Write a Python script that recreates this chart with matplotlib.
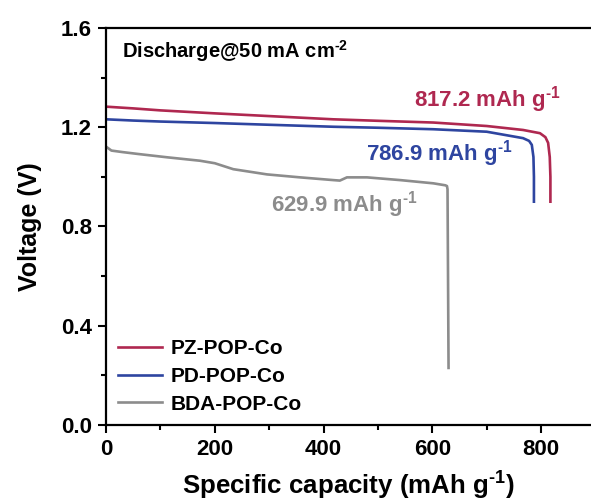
import matplotlib
matplotlib.use("Agg")
import matplotlib.pyplot as plt
from matplotlib.ticker import MultipleLocator

plt.rcParams['font.family'] = ['Liberation Sans', 'DejaVu Sans']
plt.rcParams['font.weight'] = 'bold'
plt.rcParams['mathtext.fontset'] = 'custom'
plt.rcParams['mathtext.rm'] = 'Liberation Sans:bold'
plt.rcParams['mathtext.bf'] = 'Liberation Sans:bold'
plt.rcParams['mathtext.it'] = 'Liberation Sans:bold'

# Data
pz_cap = [0, 50, 100, 200, 300, 418, 500, 602, 700, 767, 798, 808, 813, 816, 817.2, 817.2]
pz_v = [1.283, 1.276, 1.268, 1.256, 1.245, 1.232, 1.226, 1.219, 1.205, 1.189, 1.176, 1.160, 1.137, 1.08, 1.0, 0.90]

pd_cap = [0, 50, 100, 200, 300, 418, 500, 602, 700, 767, 778, 783, 786, 786.9, 786.9]
pd_v = [1.232, 1.227, 1.223, 1.217, 1.210, 1.202, 1.198, 1.192, 1.182, 1.156, 1.145, 1.129, 1.08, 1.0, 0.90]

bda_cap = [0, 10, 30, 60, 112, 173, 200, 234, 296, 357, 418, 430, 443, 480, 541, 602, 624, 627, 628, 629.9]
bda_v = [1.122, 1.106, 1.100, 1.092, 1.079, 1.065, 1.055, 1.031, 1.010, 0.998, 0.987, 0.985, 0.998, 0.998, 0.987, 0.974, 0.966, 0.963, 0.95, 0.23]

series = ["PZ-POP-Co", "PD-POP-Co", "BDA-POP-Co"]
colors = ["#AF2850", "#2E45A0", "#8C8C8C"]
caps = ["817.2", "786.9", "629.9"]

fig = plt.figure(figsize=(5.91, 5.04), dpi=100)
ax = fig.add_axes([106/591, 1-425/504, 484/591, 397/504])

for cap, v, lab, c in zip([pz_cap, pd_cap, bda_cap], [pz_v, pd_v, bda_v], series, colors):
    ax.plot(cap, v, color=c, lw=1.9, label=lab)

ax.set_xlim(0, 890)
ax.set_ylim(0, 1.6)
ax.xaxis.set_major_locator(MultipleLocator(200))
ax.xaxis.set_minor_locator(MultipleLocator(100))
ax.yaxis.set_major_locator(MultipleLocator(0.4))
ax.yaxis.set_minor_locator(MultipleLocator(0.2))
ax.yaxis.set_major_formatter(plt.FuncFormatter(lambda v, p: f"{v:.1f}"))
ax.tick_params(which='major', direction='out', length=6, width=1.5, labelsize=16, pad=4)
ax.tick_params(which='minor', direction='out', length=3.5, width=1.5)
for s in ['left', 'bottom', 'top']:
    ax.spines[s].set_linewidth(1.6)
ax.spines['right'].set_visible(False)

ax.set_xlabel(r"Specific capacity (mAh g$^{\text{-1}}$)", fontsize=18.6, fontweight='bold', labelpad=7)
ax.set_ylabel("Voltage (V)", fontsize=18, fontweight='bold', labelpad=14)

ax.text(0.033, 0.942, r"Discharge@50 mA cm$^{\text{-2}}$", transform=ax.transAxes,
        fontsize=14.5, fontweight='bold', ha='left', va='center')

ann_pos = [(836, 1.31), (748, 1.092), (573, 0.89)]
for (x, y), c, t in zip(ann_pos, colors, caps):
    ax.text(x, y, t + r" mAh g$^{\text{-1}}$", color=c, fontsize=16, fontweight='bold',
            ha='right', va='center')

leg = ax.legend(loc='lower left', bbox_to_anchor=(0.003, 0.0025), frameon=False,
                fontsize=15, handlelength=2.1, handletextpad=0.45, labelspacing=0.42,
                borderpad=0.0)

fig.savefig("out.png", dpi=100)
